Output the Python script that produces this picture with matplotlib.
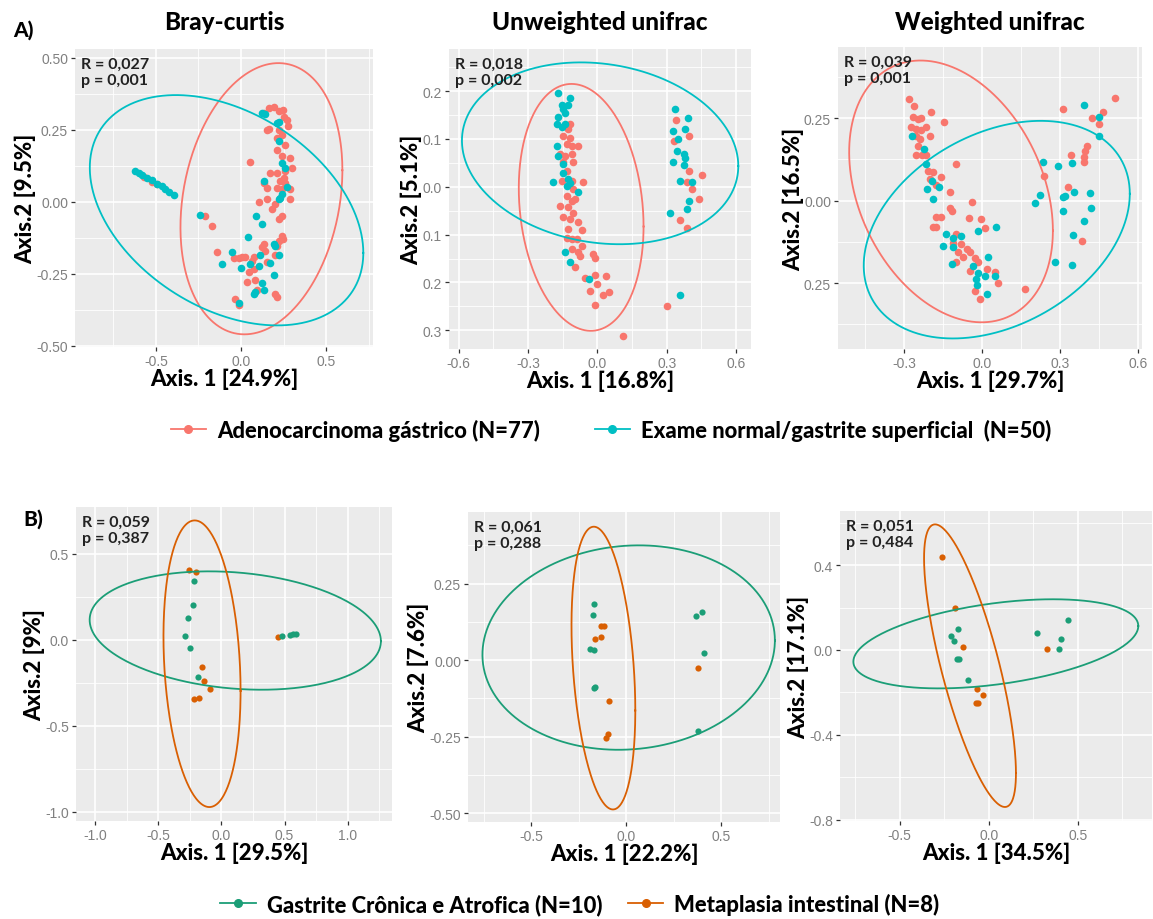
import numpy as np
import matplotlib
matplotlib.use('Agg')
import matplotlib.pyplot as plt
from matplotlib.lines import Line2D

plt.rcParams['font.family'] = ['Liberation Sans', 'DejaVu Sans']

W, H = 1153, 920

#%%
# group colours
c_adeno = '#F8766D'
c_normal = '#00BFC4'
c_gastrite = '#1B9E77'
c_metaplasia = '#D95F02'

#%%
# A) Bray-curtis ordination
bray_adeno_x = [-0.569, -0.524, -0.494, 0.133, 0.163, 0.192, 0.222, 0.247, 0.251, 0.271, 0.275, 0.163,
                0.153, 0.222, 0.241, 0.212, 0.261, 0.212, 0.241, 0.290, 0.300, 0.261, 0.212, 0.251, 0.231,
                0.261, 0.290, 0.241, 0.212, 0.173, 0.133, 0.153, 0.153, 0.104, 0.202, 0.182, 0.290, 0.241,
                0.222, 0.241, 0.247, 0.222, 0.133, 0.124, 0.143, 0.212, 0.202, 0.075, 0.065, -0.043,
                -0.014, 0.006, 0.025, -0.141, 0.045, 0.075, 0.084, 0.035, 0.094, 0.153, 0.202, 0.212,
                -0.033, -0.014, 0.055, -0.210, -0.171]
bray_adeno_y = [0.085, 0.068, 0.060, 0.307, 0.324, 0.330, 0.313, 0.318, 0.295, 0.284, 0.261, 0.253,
                0.249, 0.249, 0.232, 0.221, 0.198, 0.180, 0.157, 0.152, 0.117, 0.106, 0.100, 0.083, 0.071,
                0.066, 0.043, 0.043, 0.048, 0.100, 0.066, 0.048, 0.008, -0.003, -0.009, -0.026, 0.008,
                -0.049, -0.061, -0.118, -0.130, -0.136, -0.147, -0.159, -0.170, -0.153, -0.187, -0.191,
                -0.205, -0.195, -0.195, -0.191, -0.191, -0.176, -0.245, -0.233, -0.274, -0.279, -0.308,
                -0.210, -0.320, -0.331, -0.337, -0.360, 0.138, -0.049, -0.084]
bray_normal_x = [-0.622, -0.602, -0.582, -0.553, -0.524, -0.494, -0.465, -0.445, -0.425, -0.396,
                 0.124, 0.143, 0.212, 0.222, 0.222, 0.241, 0.261, 0.133, 0.271, 0.241, 0.231, 0.222,
                 0.090, 0.124, 0.039, 0.192, 0.202, -0.053, -0.112, 0.000, 0.055, 0.104, 0.114, 0.173,
                 0.222, 0.192, 0.124, 0.133, 0.075, 0.084, -0.014, -0.239]
bray_normal_y = [0.106, 0.100, 0.094, 0.083, 0.074, 0.062, 0.053, 0.043, 0.034, 0.023,
                 0.307, 0.303, 0.272, 0.278, 0.209, 0.134, 0.115, 0.071, 0.051, 0.025, 0.014, 0.008,
                 -0.049, -0.078, -0.124, -0.147, -0.153, -0.176, -0.216, -0.230, -0.216, -0.222, -0.187,
                 -0.214, -0.187, -0.256, -0.283, -0.306, -0.320, -0.314, -0.352, -0.046]

# A) Unweighted unifrac ordination
unw_adeno_x = [-0.119, -0.126, -0.147, -0.119, -0.133, -0.111, -0.082, -0.162, -0.140, -0.111, -0.147,
               -0.104, -0.133, -0.155, -0.111, -0.061, -0.104, -0.133, -0.097, -0.111, -0.162, -0.126,
               -0.104, -0.147, -0.119, -0.082, -0.126, -0.068, -0.133, -0.111, -0.068, -0.111, -0.082,
               -0.075, -0.017, -0.010, -0.097, -0.053, -0.010, 0.038, -0.003, -0.032, 0.026, 0.052,
               -0.010, 0.110, -0.090, 0.341, 0.330, 0.395, 0.395, 0.453, 0.387, 0.409, 0.438, 0.359,
               0.387, 0.301]
unw_adeno_y = [0.131, 0.121, 0.107, 0.103, 0.089, 0.086, 0.086, 0.068, 0.065, 0.068, 0.051, 0.051,
               0.033, 0.013, 0.013, 0.010, -0.005, -0.019, -0.026, -0.029, -0.040, -0.043, -0.054,
               -0.064, -0.068, -0.073, -0.089, -0.090, -0.108, -0.109, -0.123, -0.130, -0.137, -0.144,
               -0.141, -0.148, -0.167, -0.190, -0.184, -0.186, -0.203, -0.217, -0.226, -0.220, -0.247,
               -0.311, -0.109, 0.140, 0.096, 0.107, 0.033, 0.025, 0.009, -0.005, -0.026, -0.069,
               -0.087, -0.249]
unw_normal_x = [-0.172, -0.155, -0.119, -0.126, -0.147, -0.140, -0.169, -0.176, -0.155, -0.140, -0.176,
                -0.169, -0.147, -0.150, -0.191, -0.126, -0.119, -0.133, -0.082, -0.140, -0.119, -0.035,
                0.337, 0.392, 0.327, 0.347, 0.380, 0.344, 0.373, 0.380, 0.327, 0.376, 0.359, 0.409,
                0.398, 0.387, 0.315, 0.356]
unw_normal_y = [0.197, 0.171, 0.185, 0.171, 0.162, 0.155, 0.145, 0.131, 0.124, 0.131, 0.086, 0.065,
                0.047, 0.028, 0.011, 0.016, 0.007, 0.002, -0.010, -0.137, -0.158, -0.192,
                0.162, 0.143, 0.117, 0.100, 0.121, 0.075, 0.068, 0.061, 0.051, 0.045, 0.013, 0.009,
                -0.029, -0.047, -0.054, -0.226]

# A) Weighted unifrac ordination
wu_adeno_x = [-0.282, -0.264, -0.266, -0.247, -0.234, -0.198, -0.148, -0.273, -0.253, -0.234, -0.215,
              -0.202, -0.253, -0.240, -0.247, -0.253, -0.230, -0.215, -0.099, -0.208, -0.189, -0.202,
              -0.157, -0.176, -0.125, -0.041, -0.125, -0.118, -0.176, -0.157, -0.050, -0.003, 0.010,
              -0.189, -0.176, -0.099, -0.112, -0.080, -0.060, -0.093, -0.073, -0.048, -0.028, -0.015,
              -0.099, -0.048, 0.017, 0.049, 0.062, -0.026, -0.009, 0.165, 0.238, 0.310, 0.342, 0.332,
              0.383, 0.390, 0.396, 0.403, 0.422, 0.448, 0.464, 0.512, 0.390]
wu_adeno_y = [0.309, 0.286, 0.253, 0.248, 0.250, 0.268, 0.240, 0.223, 0.218, 0.213, 0.223, 0.197, 0.197,
              0.187, 0.167, 0.139, 0.137, 0.137, 0.111, 0.091, 0.086, 0.066, 0.071, 0.046, 0.027, -0.005,
              -0.023, -0.030, -0.051, -0.051, -0.054, -0.056, -0.084, -0.081, -0.081, -0.101, -0.127,
              -0.132, -0.147, -0.157, -0.172, -0.157, -0.175, -0.187, -0.187, -0.213, -0.207, -0.216,
              -0.250, -0.273, -0.299, -0.268, 0.074, 0.278, 0.139, 0.040, -0.121, 0.132, 0.152, 0.167,
              0.251, 0.233, 0.268, 0.311, 0.118]
wu_normal_x = [-0.269, -0.225, -0.215, -0.195, -0.212, -0.189, -0.166, -0.138, -0.150, -0.114, -0.114,
               -0.118, -0.080, -0.018, 0.023, 0.055, -0.035, -0.015, -0.022, -0.019, 0.010, 0.017, 0.051,
               0.233, 0.222, 0.203, 0.293, 0.345, 0.312, 0.319, 0.310, 0.355, 0.413, 0.419, 0.390, 0.351,
               0.280, 0.345, 0.390, 0.448, 0.451]
wu_normal_y = [0.197, 0.157, 0.111, 0.061, 0.035, 0.005, 0.040, -0.101, -0.137, -0.114, -0.142, -0.192,
               -0.106, -0.091, -0.172, -0.081, -0.197, -0.218, -0.238, -0.256, -0.228, -0.283, -0.228,
               0.116, 0.017, -0.007, 0.106, 0.114, 0.010, 0.015, -0.032, 0.025, 0.022, -0.023, -0.061,
               -0.104, -0.187, -0.194, 0.290, 0.253, 0.197]

# B) Bray-curtis ordination
bray_gast_x = [-0.217, -0.227, -0.262, -0.289, -0.249, -0.182, 0.481, 0.540, 0.567, 0.588]
bray_gast_y = [0.338, 0.204, 0.126, 0.023, -0.049, -0.219, 0.023, 0.029, 0.033, 0.035]
bray_meta_x = [-0.254, -0.203, -0.155, -0.136, -0.088, -0.214, -0.176, 0.449]
bray_meta_y = [0.402, 0.392, -0.161, -0.243, -0.289, -0.346, -0.342, 0.014]

# B) Unweighted unifrac ordination
unw_gast_x = [-0.172, -0.176, -0.190, -0.168, -0.165, -0.172, 0.366, 0.397, 0.408, 0.380]
unw_gast_y = [0.185, 0.148, 0.036, 0.033, -0.089, -0.092, 0.145, 0.158, 0.023, -0.233]
unw_meta_x = [-0.132, -0.118, -0.163, -0.132, -0.092, -0.096, -0.105, 0.380]
unw_meta_y = [0.112, 0.112, 0.068, 0.077, -0.135, -0.241, -0.255, -0.026]

# B) Weighted unifrac ordination
wu_gast_x = [-0.173, -0.214, -0.195, -0.177, -0.164, -0.118, 0.269, 0.406, 0.395, 0.447]
wu_gast_y = [0.097, 0.066, 0.042, -0.041, -0.044, -0.141, 0.082, 0.053, 0.006, 0.141]
wu_meta_x = [-0.261, -0.188, -0.145, -0.066, -0.032, -0.070, -0.058, 0.325]
wu_meta_y = [0.438, 0.199, 0.014, -0.185, -0.212, -0.248, -0.248, 0.006]

# 95% ellipses: centre x, centre y, half extent x, half extent y, correlation
ell_bray_adeno = (0.12, 0.01, 0.476, 0.471, 0.21)
ell_bray_normal = (-0.085, -0.03, 0.804, 0.40, -0.37)
ell_unw_adeno = (-0.07, -0.043, 0.27, 0.258, -0.155)
ell_unw_normal = (0.012, 0.07, 0.598, 0.19, -0.14)
ell_wu_adeno = (-0.12, 0.028, 0.392, 0.397, -0.3)
ell_wu_normal = (0.056, -0.088, 0.512, 0.33, 0.33)
ell_bray_gast = (0.11, 0.053, 1.152, 0.344, -0.18)
ell_bray_meta = (-0.153, -0.14, 0.305, 0.833, -0.19)
ell_unw_gast = (0.013, 0.041, 0.77, 0.334, 0.07)
ell_unw_meta = (-0.12, -0.026, 0.168, 0.462, -0.3)
ell_wu_gast = (0.04, 0.029, 0.80, 0.21, 0.4)
ell_wu_meta = (-0.105, -0.074, 0.258, 0.666, -0.76)

# ANOSIM results
stats_A = [('0,027', '0,001'), ('0,018', '0,002'), ('0,039', '0,001')]
stats_B = [('0,059', '0,387'), ('0,061', '0,288'), ('0,051', '0,484')]

titles = ['Bray-curtis', 'Unweighted unifrac', 'Weighted unifrac']
xlabels_A = ['Axis. 1 [24.9%]', 'Axis. 1 [16.8%]', 'Axis. 1 [29.7%]']
ylabels_A = ['Axis.2 [9.5%]', 'Axis.2 [5.1%]', 'Axis.2 [16.5%]']
xlabels_B = ['Axis. 1 [29.5%]', 'Axis. 1 [22.2%]', 'Axis. 1 [34.5%]']
ylabels_B = ['Axis.2 [9%]', 'Axis.2 [7.6%]', 'Axis.2 [17.1%]']

legend_A = ['Adenocarcinoma gástrico (N=77)', 'Exame normal/gastrite superficial  (N=50)']
legend_B = ['Gastrite Crônica e Atrofica (N=10)', 'Metaplasia intestinal (N=8)']

#%%
def draw_ellipse(ax, params, color):
    cx, cy, rx, ry, rho = params
    t = np.linspace(0, 2 * np.pi, 300)
    ax.plot(cx + rx * np.cos(t),
            cy + ry * (rho * np.cos(t) + np.sqrt(1 - rho**2) * np.sin(t)),
            color=color, lw=1.3, zorder=4)


def style_panel(ax, xlim, ylim, xmaj, xmin, ymaj, ymin, yticklabels=None):
    ax.set_facecolor('#EBEBEB')
    for s in ax.spines.values():
        s.set_visible(False)
    ax.set_xlim(*xlim)
    ax.set_ylim(*ylim)
    ax.set_xticks(xmaj)
    ax.set_xticks(xmin, minor=True)
    ax.set_yticks(ymaj)
    ax.set_yticks(ymin, minor=True)
    if yticklabels is not None:
        ax.set_yticklabels(yticklabels)
    ax.set_axisbelow(True)
    ax.grid(which='major', color='white', lw=1.2)
    ax.grid(which='minor', color='white', lw=0.6)
    ax.tick_params(which='major', direction='out', length=3, width=0.9, color='#333333',
                   labelcolor='#808080', labelsize=10, pad=2)
    ax.tick_params(which='minor', length=0)


def px_axes(left, top, right, bottom):
    return fig.add_axes([left / W, 1 - bottom / H, (right - left) / W, (bottom - top) / H])


heavy = dict(family=['Lato', 'DejaVu Sans'], weight='black')

fig = plt.figure(figsize=(W / 100, H / 100), dpi=100)

#%%
### A) panels
ax1 = px_axes(75, 50, 373, 348)
ax2 = px_axes(449, 50, 751, 350)
ax3 = px_axes(838, 48, 1142, 350)

ax1.scatter(bray_adeno_x, bray_adeno_y, s=30, color=c_adeno, lw=0, zorder=3)
ax1.scatter(bray_normal_x, bray_normal_y, s=30, color=c_normal, lw=0, zorder=3)
draw_ellipse(ax1, ell_bray_adeno, c_adeno)
draw_ellipse(ax1, ell_bray_normal, c_normal)
style_panel(ax1, (-0.976, 0.776), (-0.505, 0.53), [-0.5, 0, 0.5], [-0.75, -0.25, 0.25, 0.75],
            [-0.5, -0.25, 0, 0.25, 0.5], [-0.375, -0.125, 0.125, 0.375],
            ['-0.50', '-0.25', '0.00', '0.25', '0.50'])
ax1.set_xticklabels(['-0.5', '0.0', '0.5'])

ax2.scatter(unw_adeno_x, unw_adeno_y, s=30, color=c_adeno, lw=0, zorder=3)
ax2.scatter(unw_normal_x, unw_normal_y, s=30, color=c_normal, lw=0, zorder=3)
draw_ellipse(ax2, ell_unw_adeno, c_adeno)
draw_ellipse(ax2, ell_unw_normal, c_normal)
style_panel(ax2, (-0.642, 0.665), (-0.339, 0.288), [-0.6, -0.3, 0, 0.3, 0.6], [-0.45, -0.15, 0.15, 0.45],
            [-0.3, -0.2, -0.1, 0, 0.1, 0.2], [-0.25, -0.15, -0.05, 0.05, 0.15, 0.25],
            ['0.3', '0.2', '0.1', '0.0', '0.1', '0.2'])
ax2.set_xticklabels(['-0.6', '-0.3', '0.0', '0.3', '0.6'])

ax3.scatter(wu_adeno_x, wu_adeno_y, s=30, color=c_adeno, lw=0, zorder=3)
ax3.scatter(wu_normal_x, wu_normal_y, s=30, color=c_normal, lw=0, zorder=3)
draw_ellipse(ax3, ell_wu_adeno, c_adeno)
draw_ellipse(ax3, ell_wu_normal, c_normal)
style_panel(ax3, (-0.555, 0.615), (-0.45, 0.466), [-0.3, 0, 0.3, 0.6], [-0.45, -0.15, 0.15, 0.45],
            [-0.25, 0, 0.25], [-0.375, -0.125, 0.125, 0.375], ['0.25', '0.00', '0.25'])
ax3.set_xticklabels(['-0.3', '0.0', '0.3', '0.6'])

#%%
### B) panels
bx1 = px_axes(76, 508, 392, 822)
bx2 = px_axes(468, 513, 780, 823)
bx3 = px_axes(840, 512, 1152, 822)

bx1.scatter(bray_meta_x, bray_meta_y, s=20, color=c_metaplasia, lw=0, zorder=3)
bx1.scatter(bray_gast_x, bray_gast_y, s=20, color=c_gastrite, lw=0, zorder=3)
draw_ellipse(bx1, ell_bray_gast, c_gastrite)
draw_ellipse(bx1, ell_bray_meta, c_metaplasia)
style_panel(bx1, (-1.15, 1.35), (-1.054, 0.771), [-1, -0.5, 0, 0.5, 1], [-0.75, -0.25, 0.25, 0.75, 1.25],
            [-1, -0.5, 0, 0.5], [-0.75, -0.25, 0.25], ['-1.0', '-0.5', '0.0', '0.5'])
bx1.set_xticklabels(['-1.0', '-0.5', '0.0', '0.5', '1.0'])

bx2.scatter(unw_meta_x, unw_meta_y, s=20, color=c_metaplasia, lw=0, zorder=3)
bx2.scatter(unw_gast_x, unw_gast_y, s=20, color=c_gastrite, lw=0, zorder=3)
draw_ellipse(bx2, ell_unw_gast, c_gastrite)
draw_ellipse(bx2, ell_unw_meta, c_metaplasia)
style_panel(bx2, (-0.833, 0.81), (-0.529, 0.484), [-0.5, 0, 0.5], [-0.75, -0.25, 0.25, 0.75],
            [-0.5, -0.25, 0, 0.25], [-0.375, -0.125, 0.125, 0.375], ['-0.50', '-0.25', '0.00', '0.25'])
bx2.set_xticklabels(['-0.5', '0.0', '0.5'])

bx3.scatter(wu_meta_x, wu_meta_y, s=20, color=c_metaplasia, lw=0, zorder=3)
bx3.scatter(wu_gast_x, wu_gast_y, s=20, color=c_gastrite, lw=0, zorder=3)
draw_ellipse(bx3, ell_wu_gast, c_gastrite)
draw_ellipse(bx3, ell_wu_meta, c_metaplasia)
style_panel(bx3, (-0.835, 0.917), (-0.806, 0.655), [-0.5, 0, 0.5], [-0.75, -0.25, 0.25, 0.75],
            [-0.8, -0.4, 0, 0.4], [-0.6, -0.2, 0.2, 0.6], ['-0.8', '-0.4', '0.0', '0.4'])
bx3.set_xticklabels(['-0.5', '0.0', '0.5'])

#%%
# labels, stats and titles
for ax, xl, yl, (r, p) in zip([ax1, ax2, ax3, bx1, bx2, bx3], xlabels_A + xlabels_B,
                              ylabels_A + ylabels_B, stats_A + stats_B):
    ax.set_xlabel(xl, fontsize=16, labelpad=0, **heavy)
    ax.set_ylabel(yl, fontsize=16, labelpad=0, **heavy)
    ax.text(0.02, 0.975, f'R = {r}\np = {p}', transform=ax.transAxes, ha='left', va='top',
            fontsize=11.5, color='#222222', linespacing=1.2, zorder=6,
            family=['Lato', 'DejaVu Sans'], weight='bold')

for ax, t in zip([ax1, ax2, ax3], titles):
    pos = ax.get_position()
    fig.text((pos.x0 + pos.x1) / 2, 1 - 22 / H, t, ha='center', va='center', fontsize=17.5, **heavy)

fig.text(13 / W, 1 - 30 / H, 'A)', ha='left', va='center', fontsize=15, **heavy)
fig.text(23 / W, 1 - 519 / H, 'B)', ha='left', va='center', fontsize=15, **heavy)

#%%
# legends
hA = [Line2D([0], [0], color=c, marker='o', ms=5.5, lw=1.3) for c in [c_adeno, c_normal]]
fig.legend(hA, legend_A, loc='center', bbox_to_anchor=(611 / W, 1 - 431 / H), ncol=2, frameon=False,
           prop=dict(family=['Lato', 'DejaVu Sans'], weight='black', size=15.8), handlelength=1.6,
           handletextpad=0.5, columnspacing=2.5)
hB = [Line2D([0], [0], color=c, marker='o', ms=5.5, lw=1.3) for c in [c_gastrite, c_metaplasia]]
fig.legend(hB, legend_B, loc='center', bbox_to_anchor=(580 / W, 1 - 905 / H), ncol=2, frameon=False,
           prop=dict(family=['Lato', 'DejaVu Sans'], weight='black', size=15.8), handlelength=1.6,
           handletextpad=0.5, columnspacing=1.2)

fig.savefig('out.png', dpi=100)
